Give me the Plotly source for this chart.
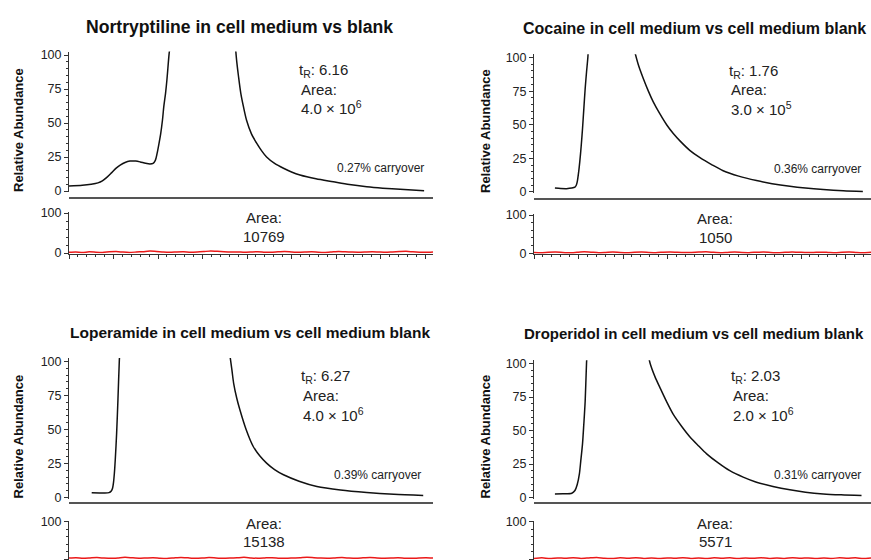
import numpy as np
import plotly.graph_objects as go

W, H = 871, 560

# ---------------- data ----------------
titles = ["Nortryptiline in cell medium vs blank",
          "Cocaine in cell medium vs cell medium blank",
          "Loperamide in cell medium vs cell medium blank",
          "Droperidol in cell medium vs cell medium blank"]
retention_times = ["6.16", "1.76", "6.27", "2.03"]
sample_areas = ["4.0 × 10<sup>6</sup>", "3.0 × 10<sup>5</sup>",
                "4.0 × 10<sup>6</sup>", "2.0 × 10<sup>6</sup>"]
blank_areas = ["10769", "1050", "15138", "5571"]
carryovers = ["0.27%", "0.36%", "0.39%", "0.31%"]

# sample chromatograms (rising branch / falling branch; apex is off-scale)
nor_rise_t = [0.00, 0.30, 0.50, 0.65, 0.75, 0.85, 0.96, 1.06, 1.15, 1.26, 1.37, 1.50, 1.60, 1.72, 1.82,
              1.89, 1.94, 1.98, 2.02, 2.06, 2.10, 2.13, 2.17, 2.20, 2.25, 2.27]
nor_rise_v = [3.7, 4.2, 5.0, 6.0, 7.5, 10.0, 13.5, 16.8, 19.0, 21.0, 22.0, 22.0, 21.4, 20.4, 19.9,
              20.3, 22.5, 27.7, 34.5, 42.0, 52.0, 62.0, 72.0, 81.6, 101.0, 106.0]
nor_fall_t = [3.74, 3.77, 3.81, 3.86, 3.92, 3.99, 4.10, 4.22, 4.33, 4.44, 4.62, 4.82, 5.00, 5.19, 5.55,
              5.94, 6.30, 6.69, 7.05, 7.44, 7.98]
nor_fall_v = [106.0, 95.0, 84.0, 72.0, 62.0, 52.0, 42.0, 35.0, 29.5, 25.0, 20.3, 16.7, 14.0, 11.8, 9.0,
              6.8, 4.8, 3.2, 2.1, 1.2, 0.2]

coc_rise_t = [0.47, 0.60, 0.73, 0.85, 0.92, 0.95, 0.97, 1.00, 1.03, 1.06, 1.09, 1.12, 1.15, 1.18, 1.21, 1.22]
coc_rise_v = [2.9, 2.6, 2.5, 2.9, 3.6, 5.0, 7.3, 14.0, 23.0, 34.0, 47.0, 62.0, 77.0, 89.0, 100.0, 106.0]
coc_fall_t = [2.25, 2.35, 2.46, 2.57, 2.68, 2.83, 2.98, 3.13, 3.28, 3.50, 3.73, 4.00, 4.25, 4.60, 5.00,
              5.35, 5.75, 6.10, 6.50, 6.95, 7.39]
coc_fall_v = [106.0, 94.0, 84.0, 75.0, 67.0, 58.0, 50.0, 43.5, 38.0, 31.0, 25.5, 20.2, 15.8, 11.8, 8.5,
              6.2, 4.2, 2.9, 1.8, 0.9, 0.3]

lop_rise_t = [0.51, 0.75, 0.90, 0.95, 0.98, 1.00, 1.02, 1.04, 1.07, 1.10, 1.13, 1.14]
lop_rise_v = [3.5, 3.4, 3.6, 4.8, 7.0, 11.0, 18.0, 28.0, 47.0, 72.0, 100.0, 106.0]
lop_fall_t = [3.61, 3.66, 3.70, 3.77, 3.84, 3.98, 4.14, 4.29, 4.44, 4.62, 4.82, 5.17, 5.57, 6.10, 6.69,
              7.30, 7.96]
lop_fall_v = [106.0, 94.0, 84.0, 73.0, 64.5, 50.0, 37.5, 30.5, 25.3, 20.5, 16.7, 12.0, 8.1, 5.5, 3.7,
              2.4, 1.5]

dro_rise_t = [0.47, 0.65, 0.85, 0.92, 0.97, 1.02, 1.05, 1.09, 1.12, 1.15, 1.18, 1.19]
dro_rise_v = [2.7, 2.8, 3.2, 5.2, 9.5, 17.7, 27.0, 40.0, 55.0, 72.0, 100.0, 106.0]
dro_fall_t = [2.57, 2.61, 2.72, 2.83, 2.98, 3.13, 3.32, 3.51, 3.70, 3.88, 4.14, 4.40, 4.70, 5.00, 5.37,
              5.75, 6.10, 6.50, 6.90, 7.36]
dro_fall_v = [106.0, 100.0, 90.0, 82.0, 71.5, 62.0, 53.0, 45.0, 38.5, 32.6, 25.8, 20.0, 15.2, 11.4, 8.2,
              5.7, 4.0, 2.7, 2.0, 1.5]

# blank chromatograms (red noise traces)
nor_blank = [1.8, 2.6, 1.2, 3.1, 2.0, 1.4, 2.9, 3.6, 2.2, 1.5, 2.4, 3.3, 4.8, 3.9, 2.5, 1.9, 2.7, 3.0,
             1.6, 2.2, 3.5, 5.2, 4.4, 3.1, 2.3, 2.8, 1.7, 2.5, 3.4, 2.1, 1.6, 2.9, 3.7, 2.6, 1.8, 2.4,
             3.2, 2.0, 1.5, 2.7, 3.9, 3.1, 2.2, 1.9, 2.6, 3.3, 2.4, 1.7, 2.8, 3.6, 4.1, 2.9, 2.1, 1.6, 2.5]
coc_blank = [2.2, 1.5, 2.8, 3.4, 2.1, 1.3, 2.6, 3.8, 2.9, 1.7, 2.3, 3.1, 2.0, 1.4, 2.7, 3.5, 2.4, 1.6,
             2.9, 3.7, 2.5, 1.8, 2.2, 3.3, 4.0, 2.6, 1.5, 2.4, 3.2, 2.1, 1.7, 2.8, 3.6, 2.3, 1.4, 2.5,
             3.4, 2.7, 1.9, 2.2, 3.0, 2.4, 1.6, 2.9, 3.3, 2.0, 1.5, 2.6]
lop_blank = [2.4, 3.1, 1.8, 2.7, 3.9, 2.5, 1.7, 2.9, 4.6, 3.3, 2.1, 2.8, 3.5, 2.2, 1.6, 3.0, 4.2, 3.1,
             2.0, 2.6, 3.8, 2.7, 1.9, 2.4, 3.3, 4.4, 3.0, 2.1, 2.9, 3.6, 2.3, 1.8, 2.7, 3.4, 4.9, 3.5,
             2.4, 2.0, 2.8, 3.7, 2.6, 1.9, 3.1, 4.0, 2.9, 2.2, 2.5, 3.4, 2.1, 1.8, 2.7, 3.2, 2.4]
dro_blank = [1.6, 3.2, 1.4, 3.0, 1.8, 3.4, 1.5, 2.9, 4.2, 2.0, 1.5, 3.1, 1.7, 3.3, 1.6, 2.8, 1.4, 3.0,
             1.9, 3.5, 1.6, 2.7, 1.5, 3.2, 1.8, 3.1, 1.4, 2.9, 1.7, 3.3, 1.5, 2.8, 1.6, 3.4, 1.9, 3.0,
             1.5, 2.7, 1.6, 3.1, 1.8, 3.2, 1.4, 2.9]

rises = [(nor_rise_t, nor_rise_v), (coc_rise_t, coc_rise_v), (lop_rise_t, lop_rise_v), (dro_rise_t, dro_rise_v)]
falls = [(nor_fall_t, nor_fall_v), (coc_fall_t, coc_fall_v), (lop_fall_t, lop_fall_v), (dro_fall_t, dro_fall_v)]
blanks = [nor_blank, coc_blank, lop_blank, dro_blank]

# ---------------- geometry (pixels) ----------------
PX_PER_MIN = 44.5
panels = [
    dict(xl=69, xr=433, z=191.0, s=1.36, sep=198, lz=253.0, ls=0.40, cx=240, ty=27, lab=18,
         ix=299, cr=426, bx=264),
    dict(xl=534, xr=871, z=192.0, s=1.345, sep=199, lz=253.3, ls=0.383, cx=694, ty=28, lab=485,
         ix=729, cr=863, bx=715),
    dict(xl=69, xr=433, z=497.5, s=1.36, sep=503, lz=559.0, ls=0.373, cx=250, ty=332, lab=18,
         ix=301, cr=423, bx=264),
    dict(xl=534, xr=871, z=497.5, s=1.34, sep=503, lz=559.0, ls=0.373, cx=694, ty=333, lab=485,
         ix=731, cr=863, bx=715),
]
TOP_RANGE = [-0.8, 102.5]
LOW_RANGE = [-1.5, 102.0]
title_sizes = [17.6, 16.0, 15.5, 15.0]


def X(px):
    return px / W


def Y(py):
    return 1 - py / H


fig = go.Figure()
layout = dict(width=W, height=H, margin=dict(l=0, r=0, t=0, b=0, autoexpand=False),
              paper_bgcolor="white", plot_bgcolor="white", showlegend=False,
              font=dict(family="Liberation Sans, Arial, sans-serif", color="#222"))
annotations = []

tickfont = dict(family="Liberation Sans, Arial, sans-serif", size=12.5, color="#222")
axcol = "#333"

for i, p in enumerate(panels):
    a_top = 2 * i + 1
    a_low = 2 * i + 2
    xn_top = "x" if a_top == 1 else f"x{a_top}"
    yn_top = "y" if a_top == 1 else f"y{a_top}"
    xn_low, yn_low = f"x{a_low}", f"y{a_low}"
    xrange = [0, (p["xr"] - p["xl"]) / PX_PER_MIN]
    xdom = [X(p["xl"]), min(1.0, X(p["xr"]))]

    top_dom = [Y(p["z"] - TOP_RANGE[0] * p["s"]), Y(p["z"] - TOP_RANGE[1] * p["s"])]
    low_dom = [max(0.0, Y(p["lz"] - LOW_RANGE[0] * p["ls"])), Y(p["lz"] - LOW_RANGE[1] * p["ls"])]

    rt, rv = rises[i]
    ft, fv = falls[i]
    fig.add_trace(go.Scatter(x=list(rt) + [None] + list(ft), y=list(rv) + [None] + list(fv),
                             mode="lines", line=dict(color="#111", width=1.5, shape="spline", smoothing=0.8),
                             connectgaps=False, xaxis=xn_top, yaxis=yn_top, hoverinfo="skip"))
    bl = blanks[i]
    bt = np.linspace(0, xrange[1], len(bl))
    fig.add_trace(go.Scatter(x=bt, y=bl, mode="lines",
                             line=dict(color="rgb(235,25,25)", width=1.5, shape="spline", smoothing=0.5),
                             xaxis=xn_low, yaxis=yn_low, hoverinfo="skip"))

    kx_top = "xaxis" if a_top == 1 else f"xaxis{a_top}"
    ky_top = "yaxis" if a_top == 1 else f"yaxis{a_top}"
    layout[kx_top] = dict(domain=xdom, range=xrange, anchor="free", position=Y(p["sep"]),
                          showline=True, linecolor="#555", linewidth=2, ticks="",
                          showticklabels=False, showgrid=False, zeroline=False, fixedrange=True,
                          automargin=False)
    layout[ky_top] = dict(domain=top_dom, range=TOP_RANGE, anchor=xn_top,
                          showline=True, linecolor=axcol, linewidth=1, ticks="outside",
                          ticklen=4, tickwidth=1, tickcolor=axcol, tickvals=[0, 25, 50, 75, 100],
                          minor=dict(ticks="outside", ticklen=2, tickwidth=1, tickcolor=axcol, dtick=5, tick0=0),
                          tickfont=tickfont, showgrid=False, zeroline=False, fixedrange=True,
                          automargin=False)
    layout[f"xaxis{a_low}"] = dict(domain=xdom, range=xrange, anchor=yn_low,
                                   showline=True, linecolor=axcol, linewidth=1, ticks="outside",
                                   ticklen=4, tickwidth=1, tickcolor=axcol, dtick=1, tick0=0,
                                   minor=dict(ticks="outside", ticklen=2, tickwidth=1, tickcolor=axcol, dtick=0.2),
                                   showticklabels=False, showgrid=False, zeroline=False,
                                   layer="below traces", fixedrange=True, automargin=False)
    layout[f"yaxis{a_low}"] = dict(domain=low_dom, range=LOW_RANGE, anchor=xn_low,
                                   showline=True, linecolor=axcol, linewidth=1, ticks="outside",
                                   ticklen=4, tickwidth=1, tickcolor=axcol, tickvals=[0, 100],
                                   minor=dict(ticks="outside", ticklen=2, tickwidth=1, tickcolor=axcol, dtick=20, tick0=0),
                                   tickfont=tickfont, showgrid=False, zeroline=False, fixedrange=True,
                                   automargin=False)

    annotations.append(dict(text=f"<b>{titles[i]}</b>", x=X(p["cx"]), y=Y(p["ty"]), xref="paper", yref="paper",
                            xanchor="center", yanchor="middle", showarrow=False,
                            font=dict(size=title_sizes[i], color="#111")))
    annotations.append(dict(text="<b>Relative Abundance</b>", x=X(p["lab"]), y=Y(p["z"] - 61),
                            xref="paper", yref="paper", textangle=-90, xanchor="center", yanchor="middle",
                            showarrow=False, font=dict(size=13, color="#111")))
    by = p["z"] - 121
    annotations.append(dict(text=f"t<sub>R</sub>: {retention_times[i]}", x=X(p["ix"] - 2), y=Y(by), xref="paper",
                            yref="paper", xanchor="left", yanchor="middle", showarrow=False,
                            font=dict(size=15, color="#222")))
    annotations.append(dict(text="Area:", x=X(p["ix"]), y=Y(by + 19), xref="paper", yref="paper",
                            xanchor="left", yanchor="middle", showarrow=False, font=dict(size=15, color="#222")))
    annotations.append(dict(text=sample_areas[i], x=X(p["ix"]), y=Y(by + 38), xref="paper", yref="paper",
                            xanchor="left", yanchor="middle", showarrow=False, font=dict(size=15, color="#222")))
    annotations.append(dict(text=f"{carryovers[i]} carryover", x=X(p["cr"]),
                            y=Y(p["z"] - 23), xref="paper", yref="paper", xanchor="right", yanchor="middle",
                            showarrow=False, font=dict(size=12, color="#222")))
    ay = p["sep"] + 20
    annotations.append(dict(text="Area:", x=X(p["bx"]), y=Y(ay), xref="paper", yref="paper", xanchor="center",
                            yanchor="middle", showarrow=False, font=dict(size=15, color="#222")))
    annotations.append(dict(text=blank_areas[i], x=X(p["bx"]), y=Y(ay + 18), xref="paper", yref="paper",
                            xanchor="center", yanchor="middle", showarrow=False, font=dict(size=15, color="#222")))

layout["annotations"] = annotations
fig.update_layout(**layout)
fig.write_html("out.html", config={"displayModeBar": False},
               post_script="document.body.style.margin='0';document.body.style.padding='0';")
